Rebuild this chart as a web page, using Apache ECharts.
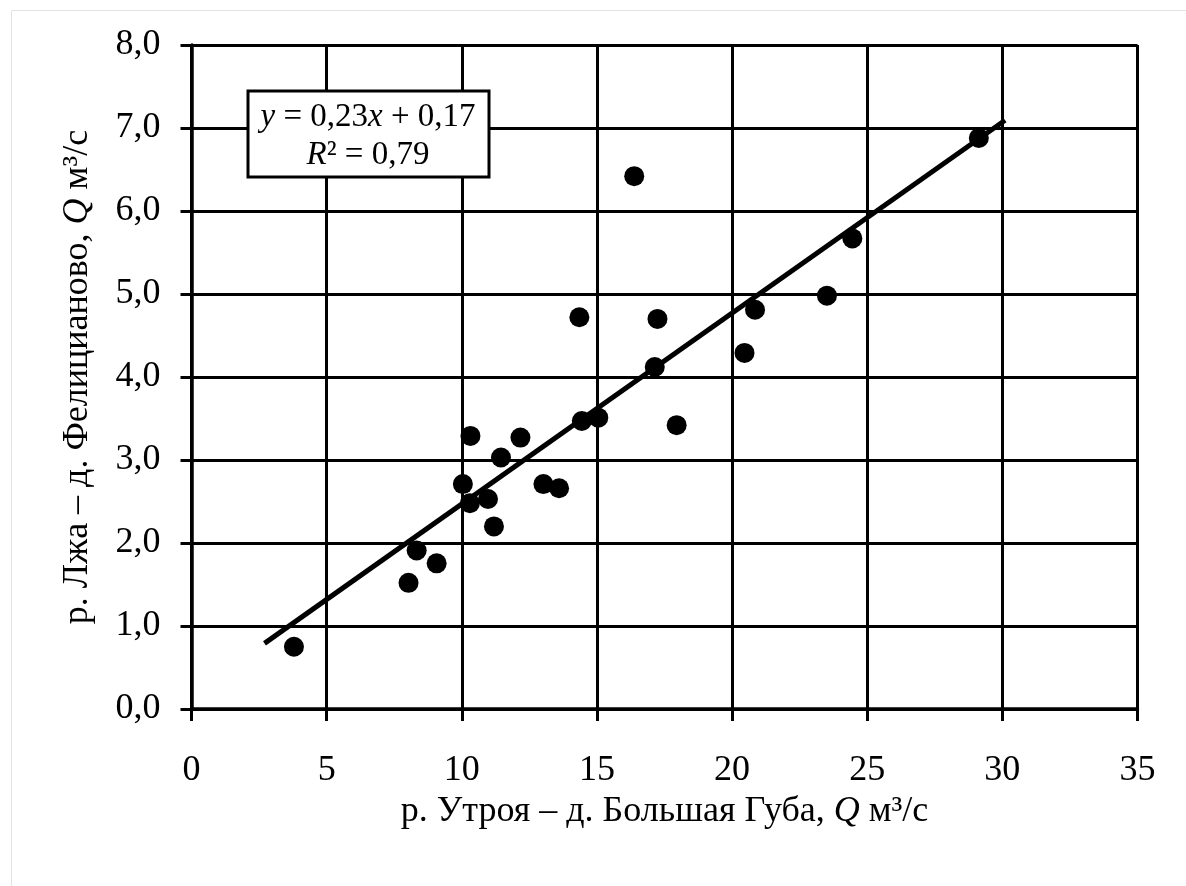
<!DOCTYPE html>
<html><head><meta charset="utf-8">
<script src="https://cdn.jsdelivr.net/npm/echarts@6/dist/echarts.min.js"></script>
<style>html,body{margin:0;padding:0;background:#fff}#c{width:1186px;height:886px}</style>
</head><body><div id="c"></div>
<script>
const xValues = [3.79, 8.03, 8.33, 9.07, 10.04, 10.30, 10.32, 10.97, 11.19, 11.45, 12.17, 13.02, 13.60, 14.35, 14.44, 15.05, 16.38, 17.14, 17.24, 17.95, 20.46, 20.85, 23.51, 24.45, 29.13];
const yValues = [0.75, 1.52, 1.91, 1.755, 2.71, 2.48, 3.29, 2.53, 2.20, 3.03, 3.27, 2.71, 2.66, 4.72, 3.47, 3.51, 6.42, 4.12, 4.70, 3.42, 4.29, 4.81, 4.98, 5.67, 6.88];
const trendSlope = 0.23, trendIntercept = 0.17;
const trendX = [2.7, 30.1];
const xTicks = [0, 5, 10, 15, 20, 25, 30, 35];
const yTicks = ['0,0','1,0','2,0','3,0','4,0','5,0','6,0','7,0','8,0'];

const pts = xValues.map((x, i) => [x, yValues[i]]);
const trend = trendX.map(x => [x, trendSlope * x + trendIntercept]);
const FONT = '"Liberation Serif", "Times New Roman", serif';

const chart = echarts.init(document.getElementById('c'));
chart.setOption({
  animation: false,
  backgroundColor: '#fff',
  grid: { left: 191.5, right: 48.5, top: 45, bottom: 177, containLabel: false },
  xAxis: {
    type: 'value', min: 0, max: 35, interval: 5,
    axisLine: { show: true, lineStyle: { color: '#000', width: 3.5 } },
    axisTick: { show: true, inside: false, length: 12, lineStyle: { color: '#000', width: 3 } },
    axisLabel: { color: '#000', fontFamily: FONT, fontSize: 36, margin: 44,
      formatter: v => String(v) },
    splitLine: { show: true, lineStyle: { color: '#000', width: 3 } },
    name: 'р. Утроя – д. Большая Губа, {i|Q} м³/с',
    nameLocation: 'middle', nameGap: 84,
    nameTextStyle: { color: '#000', fontFamily: FONT, fontSize: 36,
      rich: { i: { fontStyle: 'italic', fontFamily: FONT, fontSize: 36, color: '#000' } } }
  },
  yAxis: {
    type: 'value', min: 0, max: 8, interval: 1,
    axisLine: { show: true, lineStyle: { color: '#000', width: 3.5 } },
    axisTick: { show: true, inside: false, length: 11, lineStyle: { color: '#000', width: 3 } },
    axisLabel: { color: '#000', fontFamily: FONT, fontSize: 36, margin: 31,
      formatter: (v) => yTicks[Math.round(v)] },
    splitLine: { show: true, lineStyle: { color: '#000', width: 3 } },
    name: 'р. Лжа – д. Фелицианово, {i|Q} м³/с',
    nameLocation: 'middle', nameGap: 96, nameRotate: 90,
    nameTextStyle: { color: '#000', fontFamily: FONT, fontSize: 36,
      rich: { i: { fontStyle: 'italic', fontFamily: FONT, fontSize: 36, color: '#000' } } }
  },
  series: [
    { type: 'line', data: trend, symbol: 'none', z: 3,
      lineStyle: { color: '#000', width: 5 } },
    { type: 'scatter', data: pts, symbol: 'circle', symbolSize: [20, 20], z: 4,
      itemStyle: { color: '#000', opacity: 1 } }
  ],
  graphic: [
    { type: 'rect', left: 9, top: 8, silent: true, z: -1,
      shape: { width: 1200, height: 900 }, style: { fill: 'none', stroke: '#e2e2e2', lineWidth: 1 } },
    { type: 'rect', z: 10, shape: { x: 248, y: 91, width: 241, height: 86 },
      style: { fill: '#fff', stroke: '#000', lineWidth: 3 } },
    { type: 'text', z: 11, x: 368, y: 117,
      style: { text: '{i|y} = 0,23{i|x} + 0,17', align: 'center', verticalAlign: 'middle',
        font: '33px ' + FONT, fill: '#000',
        rich: { i: { fontStyle: 'italic', fontFamily: FONT, fontSize: 33, fill: '#000' } } } },
    { type: 'text', z: 11, x: 368, y: 155,
      style: { text: '{i|R}² = 0,79', align: 'center', verticalAlign: 'middle',
        font: '33px ' + FONT, fill: '#000',
        rich: { i: { fontStyle: 'italic', fontFamily: FONT, fontSize: 33, fill: '#000' } } } }
  ]
});
</script></body></html>
